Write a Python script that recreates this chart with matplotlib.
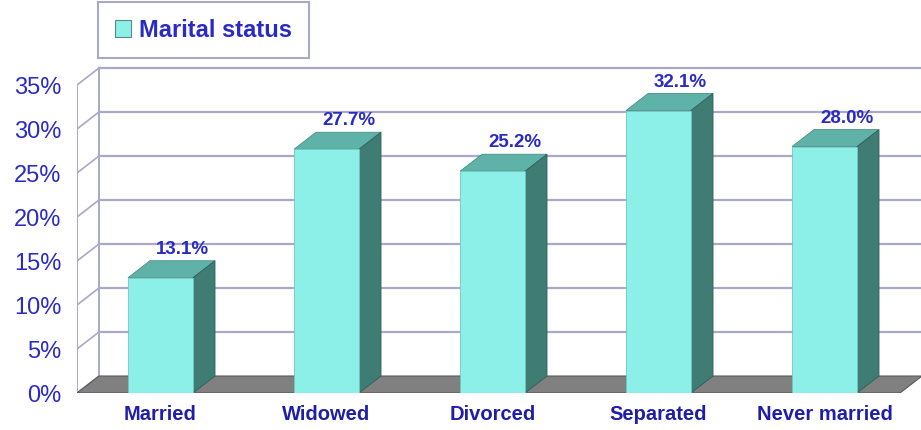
import matplotlib
matplotlib.use("Agg")
import matplotlib.pyplot as plt
from matplotlib.patches import Polygon, Patch

plt.rcParams['font.family'] = ['Liberation Sans', 'DejaVu Sans']

categories = ['Married', 'Widowed', 'Divorced', 'Separated', 'Never married']
values = [13.1, 27.7, 25.2, 32.1, 28.0]
yticks = [0, 5, 10, 15, 20, 25, 30, 35]
series_name = 'Marital status'

front_c = '#8cf0e8'
top_c = '#5fb2a8'
side_c = '#3e7c74'
floor_c = '#808080'
grid_c = '#a8a8c8'
tick_c = '#2a2ac4'
cat_c = '#1e1ea8'

W, H = 921, 430
fig = plt.figure(figsize=(W / 100, H / 100), dpi=100)
# front y-axis at x=77px, front 0% at y=393px, 8.8 px per percent, 166 px per category
px_pct = 8.8
px_cat = 166.0
ax = fig.add_axes([77 / W, 37 / H, (W - 77) / W, (393 - 60) / H])
x0 = (77 - 160.5) / px_cat
ax.set_xlim(x0, x0 + (W - 77) / px_cat)
ax.set_ylim(0, (393 - 60) / px_pct)
for s in ax.spines.values():
    s.set_visible(False)

dx = 22 / px_cat   # depth offset
dy = 17 / px_pct
bw = 65 / px_cat
xr = x0 + (W - 77) / px_cat + 0.2
top = yticks[-1]

# back wall grid lines
for v in yticks[1:]:
    ax.plot([x0 + dx, xr], [v + dy, v + dy], color=grid_c, lw=1.6, zorder=1, clip_on=False)
# left wall
ax.plot([x0, x0], [0, top], color=grid_c, lw=1.4, zorder=1)
ax.plot([x0 + dx, x0 + dx], [dy, top + dy], color=grid_c, lw=1.4, zorder=1)
for v in yticks:
    ax.plot([x0, x0 + dx], [v, v + dy], color=grid_c, lw=1.2, zorder=1)
    ax.plot([x0 - 0.02, x0], [v, v], color=grid_c, lw=1.2, zorder=1)

# floor
fr = (900 - 160.5) / px_cat
ax.add_patch(Polygon([[x0, 0], [fr, 0], [fr + dx, dy], [x0 + dx, dy]],
                     closed=True, facecolor=floor_c, edgecolor='#5a5a5a', lw=0.8, zorder=2))

# bars
xs = list(range(len(categories)))
ax.bar(xs, values, width=bw, color=front_c, edgecolor='#6fc8c0', lw=0.6, zorder=4,
       label=series_name)
for x, v in zip(xs, values):
    l, r = x - bw / 2, x + bw / 2
    ax.add_patch(Polygon([[l, v], [r, v], [r + dx, v + dy], [l + dx, v + dy]], closed=True,
                         facecolor=top_c, edgecolor='#4a8f88', lw=0.6, zorder=3))
    ax.add_patch(Polygon([[r, 0], [r, v], [r + dx, v + dy], [r + dx, dy]], closed=True,
                         facecolor=side_c, edgecolor='#2f5f5a', lw=0.6, zorder=3))
    ax.annotate('%.1f%%' % v, (x + dx, v + dy), xytext=(0, 5), textcoords='offset points',
                ha='center', va='baseline', fontsize=13.5, fontweight='bold', color=tick_c,
                zorder=5)

ax.set_yticks(yticks)
ax.set_yticklabels(['%d%%' % t for t in yticks], fontsize=17, color=tick_c)
ax.set_xticks(xs)
ax.set_xticklabels(categories, fontsize=14.5, fontweight='bold', color=cat_c)
ax.tick_params(axis='y', length=0, pad=11)
ax.tick_params(axis='x', length=0, pad=9)

leg_handle = Patch(facecolor=front_c, edgecolor='#5a8a88', lw=0.8)
leg = fig.legend([leg_handle], [series_name], loc='upper left',
                 bbox_to_anchor=(98 / W, 1 - 2 / H), bbox_transform=fig.transFigure,
                 fancybox=False, framealpha=1, edgecolor='#a8a8c8',
                 prop={'size': 17, 'weight': 'bold'},
                 handlelength=0.7, handleheight=0.7, handletextpad=0.35,
                 borderpad=0.7, borderaxespad=0)
for t in leg.get_texts():
    t.set_color(tick_c)
leg.get_frame().set_linewidth(1.5)

fig.savefig('out.png', dpi=100)
